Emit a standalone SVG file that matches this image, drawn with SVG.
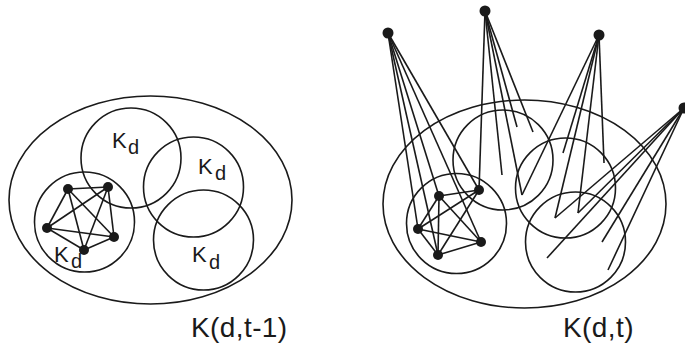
<svg xmlns="http://www.w3.org/2000/svg" width="685" height="348" viewBox="0 0 685 348">
<style>
.o{fill:none;stroke:#1a1a1a;stroke-width:1.6}
.e line{stroke:#1a1a1a;stroke-width:1.6}
.n{fill:#1a1a1a}
.t{font-family:"Liberation Sans",Arial,sans-serif;fill:#1a1a1a}
.k{font-size:22px}
.s{font-size:20px}
.ttl{font-size:28px;letter-spacing:0.4px}
</style>
<rect width="685" height="348" fill="#fff"/>
<g id="left">
<g id="left-set"><ellipse class="o" cx="150.5" cy="200" rx="141.5" ry="104"/></g>
<g id="left-kd1"><circle class="o" cx="131" cy="158" r="50"/><text class="t k" x="112" y="148">K</text><text class="t s" x="128" y="154">d</text></g>
<g id="left-kd2"><circle class="o" cx="193.5" cy="187" r="50"/><text class="t k" x="198" y="174">K</text><text class="t s" x="215" y="180">d</text></g>
<g id="left-kd3"><circle class="o" cx="203.5" cy="240" r="50"/><text class="t k" x="192" y="262">K</text><text class="t s" x="209" y="269">d</text></g>
<g id="left-kd4"><circle class="o" cx="84.5" cy="222" r="50"/><text class="t k" x="54" y="262">K</text><text class="t s" x="71" y="268">d</text></g>
<g id="left-clique-edges" class="e">
<line x1="68" y1="189" x2="108" y2="187"/><line x1="68" y1="189" x2="47" y2="228"/><line x1="68" y1="189" x2="114" y2="237"/><line x1="68" y1="189" x2="84" y2="250"/>
<line x1="108" y1="187" x2="47" y2="228"/><line x1="108" y1="187" x2="114" y2="237"/><line x1="108" y1="187" x2="84" y2="250"/>
<line x1="47" y1="228" x2="114" y2="237"/><line x1="47" y1="228" x2="84" y2="250"/><line x1="114" y1="237" x2="84" y2="250"/>
</g>
<g id="left-nodes"><circle class="n" cx="68" cy="189" r="5"/><circle class="n" cx="108" cy="187" r="5"/><circle class="n" cx="47" cy="228" r="5"/><circle class="n" cx="114" cy="237" r="5"/><circle class="n" cx="84" cy="250" r="5"/></g>
<text id="left-title" class="t ttl" x="191" y="337">K(d,t-1)</text>
</g>
<g id="right">
<g id="right-set"><ellipse class="o" cx="524.5" cy="204" rx="141.5" ry="104"/></g>
<g id="right-c1"><circle class="o" cx="503" cy="160" r="50"/></g>
<g id="right-c2"><circle class="o" cx="565.5" cy="188" r="50"/></g>
<g id="right-c3"><circle class="o" cx="575.5" cy="242" r="50"/></g>
<g id="right-c4"><circle class="o" cx="456.5" cy="223.5" r="50"/></g>
<g id="connectors" class="e">
<line x1="439" y1="196" x2="479" y2="190"/><line x1="439" y1="196" x2="418" y2="229"/><line x1="439" y1="196" x2="481" y2="242"/><line x1="439" y1="196" x2="438" y2="255"/>
<line x1="479" y1="190" x2="418" y2="229"/><line x1="479" y1="190" x2="438" y2="255"/>
<line x1="418" y1="229" x2="481" y2="242"/><line x1="418" y1="229" x2="438" y2="255"/><line x1="481" y1="242" x2="438" y2="255"/>
<line x1="388" y1="33" x2="439" y2="196"/><line x1="388" y1="33" x2="479" y2="190"/><line x1="388" y1="33" x2="418" y2="229"/><line x1="388" y1="33" x2="481" y2="242"/><line x1="388" y1="33" x2="438" y2="255"/>
<line x1="485" y1="11" x2="479" y2="190"/><line x1="485" y1="11" x2="502" y2="175"/><line x1="485" y1="11" x2="517" y2="127"/><line x1="485" y1="11" x2="533" y2="132"/><line x1="485" y1="11" x2="522" y2="195"/>
<line x1="599" y1="35" x2="522" y2="195"/><line x1="599" y1="35" x2="563" y2="153"/><line x1="599" y1="35" x2="555" y2="218"/><line x1="599" y1="35" x2="578" y2="213"/><line x1="599" y1="35" x2="604" y2="163"/>
<line x1="684" y1="108" x2="555" y2="218"/><line x1="684" y1="108" x2="578" y2="213"/><line x1="684" y1="108" x2="547" y2="258"/><line x1="684" y1="108" x2="602" y2="242"/><line x1="684" y1="108" x2="608" y2="270"/>
</g>
<g id="right-nodes"><circle class="n" cx="439" cy="196" r="5"/><circle class="n" cx="479" cy="190" r="5"/><circle class="n" cx="418" cy="229" r="5"/><circle class="n" cx="481" cy="242" r="5"/><circle class="n" cx="438" cy="255" r="5"/></g>
<g id="ext1"><circle class="n" cx="388" cy="33" r="5.5"/></g>
<g id="ext2"><circle class="n" cx="485" cy="11" r="5.5"/></g>
<g id="ext3"><circle class="n" cx="599" cy="35" r="5.5"/></g>
<g id="ext4"><circle class="n" cx="684" cy="108" r="5.5"/></g>
<text id="right-title" class="t ttl" x="563" y="337">K(d,t)</text>
</g>
</svg>
